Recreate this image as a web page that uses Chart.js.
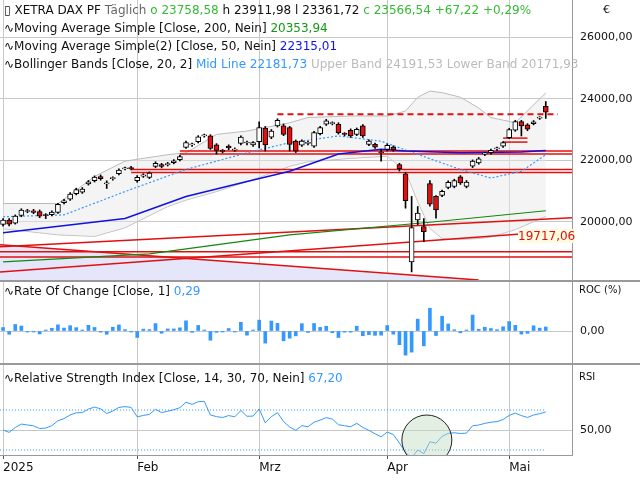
<!DOCTYPE html>
<html>
<head>
<meta charset="utf-8">
<script src="https://cdn.jsdelivr.net/npm/chart.js"></script>
<style>
  body { margin: 0; background: #fff; font-family: "DejaVu Sans", sans-serif; }
  #wrap { position: relative; width: 640px; height: 480px; overflow: hidden; }
  .cv { position: absolute; left: 0; }
  .lg { position: absolute; left: 4px; font-size: 12px; white-space: nowrap; color: #111; }
  .sep { position: absolute; left: 0; width: 640px; background: #999; }
  .ax { position: absolute; font-size: 11px; color: #111; }
</style>
</head>
<body>
<div id="wrap">
  <div class="cv" style="top:0px;width:640px;height:280px"><canvas id="main" width="640" height="280"></canvas></div>
  <div class="cv" style="top:282px;width:640px;height:81px"><canvas id="roc" width="640" height="81"></canvas></div>
  <div class="cv" style="top:365px;width:640px;height:115px"><canvas id="rsi" width="640" height="115"></canvas></div>
  <div class="sep" style="top:280px;height:2px"></div>
  <div class="sep" style="top:363px;height:2px"></div>
  <div class="sep" style="left:572px;top:0;width:1px;height:455px"></div>
  <div class="sep" style="top:455px;height:1px;width:573px"></div>
  <div class="lg" style="top:3px">&#9647; XETRA DAX PF <span style="color:#666">Täglich</span> <span style="color:#33bb33">o 23758,58</span> h 23911,98 l 23361,72 <span style="color:#33bb33">c 23566,54 +67,22 +0,29%</span></div>
  <div class="lg" style="top:21px">&#8767;Moving Average Simple [Close, 200, Nein] <span style="color:#119911">20353,94</span></div>
  <div class="lg" style="top:39px">&#8767;Moving Average Simple(2) [Close, 50, Nein] <span style="color:#1111ee">22315,01</span></div>
  <div class="lg" style="top:57px">&#8767;Bollinger Bands [Close, 20, 2] <span style="color:#3399ff">Mid Line 22181,73</span> <span style="color:#bbb">Upper Band 24191,53 Lower Band 20171,93</span></div>
  <div class="lg" style="top:284px">&#8767;Rate Of Change [Close, 1] <span style="color:#3399ff">0,29</span></div>
  <div class="lg" style="top:371px">&#8767;Relative Strength Index [Close, 14, 30, 70, Nein] <span style="color:#3399ff">67,20</span></div>
  <div class="ax" style="left:603px;top:3px">€</div>
  <div class="ax" style="left:579px;top:284px;font-size:10px">ROC (%)</div>
  <div class="ax" style="left:579px;top:371px;font-size:10px">RSI</div>
  <div style="position:absolute;left:518px;top:229px;font-size:12px;color:#e01010;background:#fffbe0">19717,06</div>
</div>
<script>
var openP = [19910,20050,19950,20200,20330,20350,20330,20220,20230,20300,20620,20730,20910,20960,21230,21330,21470,21230,21400,21560,
  21720,21760,21330,21480,21440,21800,21860,21850,21920,22020,22420,22500,22600,22790,22790,22500,22300,22460,22330,22550,
  22560,22500,22600,23040,22750,23120,23116,23062,22625,22493,22550,22461,22865,23171,23190,23171,22850,22974,22843,23116,
  22515,22515,22250,22351,22428,21860,21553,18690,20056,19838,21236,20821,20854,21116,21149,21455,21149,21805,21914,22200,
  22242,22370,22461,22734,22975,23258,23149,23193,23370,23758];
var closeP = [20050,19920,20180,20380,20340,20300,20180,20200,20310,20560,20680,20900,21040,21060,21300,21450,21400,21260,21420,21680,
  21740,21720,21440,21520,21580,21900,21800,21890,21980,22120,22570,22510,22760,22800,22380,22320,22290,22400,22360,22750,
  22560,22570,23060,22500,22950,23300,22843,22515,22297,22625,22560,22898,23062,23280,23200,22898,22843,22789,23007,22789,
  22625,22428,22240,22483,22340,21728,20679,19805,20275,19674,20570,20384,20985,21280,21335,21258,21291,21969,22045,22210,
  22319,22380,22570,22996,23258,23116,23007,23247,23380,23566];
var highP = [20100,20100,20220,20420,20400,20400,20380,20260,20350,20600,20730,20950,21090,21110,21340,21490,21520,21330,21460,21720,
  21780,21800,21500,21560,21620,21950,21900,21930,22020,22170,22620,22560,22800,22850,22830,22540,22350,22500,22400,22790,
  22620,22610,23250,23100,23000,23350,23180,23100,22660,22660,22620,22940,23100,23330,23250,23220,22900,23020,23050,23160,
  22660,22560,22350,22530,22470,21900,21600,20821,20493,20100,21335,20850,21030,21330,21380,21500,21340,22010,22090,22260,
  22360,22430,22610,23040,23300,23300,23190,23290,23420,23911];
var lowP = [19850,19860,19920,20160,20290,20260,20130,20100,20190,20270,20580,20690,20870,20920,21190,21290,21350,21080,21350,21520,
  21680,21680,21280,21440,21400,21760,21750,21810,21880,21980,22380,22450,22560,22750,22350,22200,22240,22340,22290,22500,
  22500,22450,22400,22300,22700,23080,22800,22300,22250,22450,22500,22420,22820,23130,23150,22850,22790,22740,22800,22740,
  22470,22380,21969,22300,22290,21650,20438,18362,19900,19346,20500,20111,20810,21070,21100,21210,21100,21760,21870,22150,
  22200,22320,22420,22700,22940,22789,22960,23150,23330,23361];

var tickIdx = [0, 22, 42, 63, 83];
var tickLabels = ['2025', 'Feb', 'Mrz', 'Apr', 'Mai'];
var priceTicks = [20000, 22000, 24000, 26000];

var ma200 = [[0,18690],[24,18950],[47,19570],[70,19980],[89,20354]];
var ma50 = [[0,19640],[20,20100],[30,20820],[40,21310],[47,21640],[55,22200],[62,22360],[66,22300],[75,22240],[85,22270],[89,22315]];
var bbIdx = [0,9,15,20,27,30,35,40,47,50,57,63,66,68,70,72,75,78,80,84,89];
var bbUpper = [20590,20590,21470,21970,22180,22240,22840,22950,23220,23390,23440,23440,23600,24050,24250,24200,24050,23700,23390,23220,24190];
var bbLower = [19770,19570,19520,19800,20490,20700,20980,21300,21800,21950,22060,22130,21640,20650,19780,19450,19420,19450,19500,19740,20171];
var bbMid = [[0,20160],[10,20220],[20,20980],[30,21700],[40,22240],[47,22570],[55,22790],[62,22620],[68,22190],[75,21700],[80,21420],[85,21640],[89,22180]];

var hLines = [
  { pts: [[45,23500],[91,23500]], dash: [6,4], w: 2 },
  { pts: [[29,22300],[93.3,22300]] }, { pts: [[29,22200],[93.3,22200]] },
  { pts: [[21,21700],[93.3,21700]] }, { pts: [[21,21600],[93.3,21600]] },
  { pts: [[82,22720],[86,22720]] }, { pts: [[82,22590],[86,22590]] },
  { pts: [[-0.5,19016],[93.3,19016]] }, { pts: [[-0.5,18850],[93.3,18850]] },
  { pts: [[-0.5,19180],[93.3,20130]] }, { pts: [[-0.5,18360],[93.3,19717]] }
];
var fallLine = [[-0.5,19250],[78,18100]];
var rsiSeed = 50;

var xMin = -0.5, xMax = 93.3;
var numFmt = function (v) { return v.toFixed(2).replace('.', ','); };
var gridStyle = { color: '#c8c8c8', borderDash: [1, 3], drawTicks: false };
var rightW = function (s) { s.width = 68; s.paddingTop = 0; s.paddingBottom = 0; };

function pts(arr) { return arr.map(function (p) { return { x: p[0], y: p[1] }; }); }

function xScale(show) {
  return {
    type: 'linear', min: xMin, max: xMax, offset: false,
    afterBuildTicks: function (s) { s.ticks = tickIdx.map(function (v) { return { value: v }; }); },
    grid: { color: '#c8c8c8', borderDash: [1, 3], drawTicks: show, tickLength: 4, tickColor: '#555', offset: false },
    border: { display: false },
    ticks: { display: show, autoSkip: false, maxRotation: 0, color: '#111', font: { family: 'DejaVu Sans', size: 12 }, padding: 2, align: 'start',
      callback: function (v) { var i = tickIdx.indexOf(v); return i >= 0 ? tickLabels[i] : ''; } },
    afterFit: function (s) { s.height = show ? 25 : 0; s.paddingLeft = 0; s.paddingRight = 0; }
  };
}
function yScale(min, max, ticks) {
  return {
    position: 'right', min: min, max: max,
    afterBuildTicks: function (s) { s.ticks = ticks.map(function (v) { return { value: v }; }); },
    grid: gridStyle, border: { display: false },
    ticks: { color: '#111', font: { family: 'DejaVu Sans', size: 11 }, padding: 8, callback: numFmt },
    afterFit: rightW
  };
}
var baseOpts = { responsive: false, animation: false, events: [], layout: { padding: 0 },
  plugins: { legend: { display: false }, tooltip: { enabled: false } } };

// main price panel
var datasets = [];
datasets.push({ type: 'bar', data: openP.map(function (o, i) { return { x: i, y: [Math.min(o, closeP[i]), Math.max(o, closeP[i])] }; }),
  backgroundColor: openP.map(function (o, i) { return closeP[i] < o ? '#e01010' : '#ffffff'; }),
  borderColor: '#000', borderWidth: 1, borderSkipped: false, barThickness: 5, grouped: false, order: 0, minBarLength: 1 });
datasets.push({ type: 'bar', data: highP.map(function (h, i) { return { x: i, y: [lowP[i], h] }; }),
  backgroundColor: '#000', barThickness: 1, grouped: false, order: 1 });
hLines.forEach(function (l) {
  datasets.push({ type: 'line', data: pts(l.pts), borderColor: '#e01010', borderWidth: l.w || 1.5, borderDash: l.dash || [], pointRadius: 0, order: 3 });
});
datasets.push({ type: 'line', data: pts(ma200), borderColor: '#118811', borderWidth: 1.2, pointRadius: 0, order: 2 });
datasets.push({ type: 'line', data: pts(ma50), borderColor: '#1111dd', borderWidth: 1.5, pointRadius: 0, order: 2 });
datasets.push({ type: 'line', data: pts(bbMid), borderColor: '#3399ff', borderWidth: 1.2, borderDash: [2, 2], pointRadius: 0, order: 2 });
datasets.push({ type: 'line', data: bbIdx.map(function (x, i) { return { x: x, y: bbUpper[i] }; }), borderColor: '#bbbbbb', borderWidth: 1,
  pointRadius: 0, fill: '+1', backgroundColor: 'rgba(230,230,230,0.45)', order: 9 });
datasets.push({ type: 'line', data: bbIdx.map(function (x, i) { return { x: x, y: bbLower[i] }; }), borderColor: '#bbbbbb', borderWidth: 1,
  pointRadius: 0, order: 9 });
datasets.push({ type: 'line', data: pts(fallLine), borderColor: '#e01010', borderWidth: 1.5, pointRadius: 0, fill: 'start',
  backgroundColor: '#e6e6fa', order: 10 });

new Chart(document.getElementById('main'), {
  data: { datasets: datasets },
  options: Object.assign({}, baseOpts, { scales: { x: xScale(false), y: yScale(18100, 27216, priceTicks) } })
});

// rate of change
var roc = closeP.map(function (c, i) { return i === 0 ? 0.7 : (c / closeP[i - 1] - 1) * 100; });
new Chart(document.getElementById('roc'), {
  data: { datasets: [{ type: 'bar', data: roc.map(function (v, i) { return { x: i, y: v }; }), backgroundColor: '#3399ff',
    barThickness: 3, minBarLength: 1 }] },
  options: Object.assign({}, baseOpts, { scales: { x: xScale(false), y: yScale(-6.4, 9.8, [0]) } })
});

// relative strength index (Wilder, 14), seeded with neutral averages
var rsi = [rsiSeed], ag = 100, al = 100;
closeP.forEach(function (c, i) {
  if (i === 0) return;
  var d = c - closeP[i - 1], g = d > 0 ? d : 0, l = d < 0 ? -d : 0;
  ag = (ag * 13 + g) / 14; al = (al * 13 + l) / 14;
  rsi.push(100 - 100 / (1 + ag / al));
});
var circlePlugin = {
  id: 'circle',
  afterDatasetsDraw: function (chart) {
    var ctx = chart.ctx, a = chart.chartArea;
    var cx = chart.scales.x.getPixelForValue(69.5), cy = chart.scales.y.getPixelForValue(40);
    ctx.save();
    ctx.beginPath(); ctx.rect(a.left, a.top, a.right - a.left, a.bottom - a.top); ctx.clip();
    ctx.beginPath(); ctx.arc(cx, cy, 25, 0, Math.PI * 2);
    ctx.fillStyle = 'rgba(190,220,190,0.45)'; ctx.fill();
    ctx.strokeStyle = '#222'; ctx.lineWidth = 1; ctx.stroke();
    ctx.restore();
  }
};
new Chart(document.getElementById('rsi'), {
  data: { datasets: [
    { type: 'line', data: rsi.map(function (v, i) { return { x: i, y: v }; }), borderColor: '#3399ff', borderWidth: 1, pointRadius: 0 },
    { type: 'line', data: [{ x: -0.5, y: 70 }, { x: 89, y: 70 }], borderColor: '#3399ff', borderWidth: 1, borderDash: [1, 2], pointRadius: 0 },
    { type: 'line', data: [{ x: -0.5, y: 30 }, { x: 89, y: 30 }], borderColor: '#3399ff', borderWidth: 1, borderDash: [1, 2], pointRadius: 0 }
  ] },
  options: Object.assign({}, baseOpts, { scales: { x: xScale(true), y: yScale(25, 115, [50]) } }),
  plugins: [circlePlugin]
});
</script>
</body>
</html>
